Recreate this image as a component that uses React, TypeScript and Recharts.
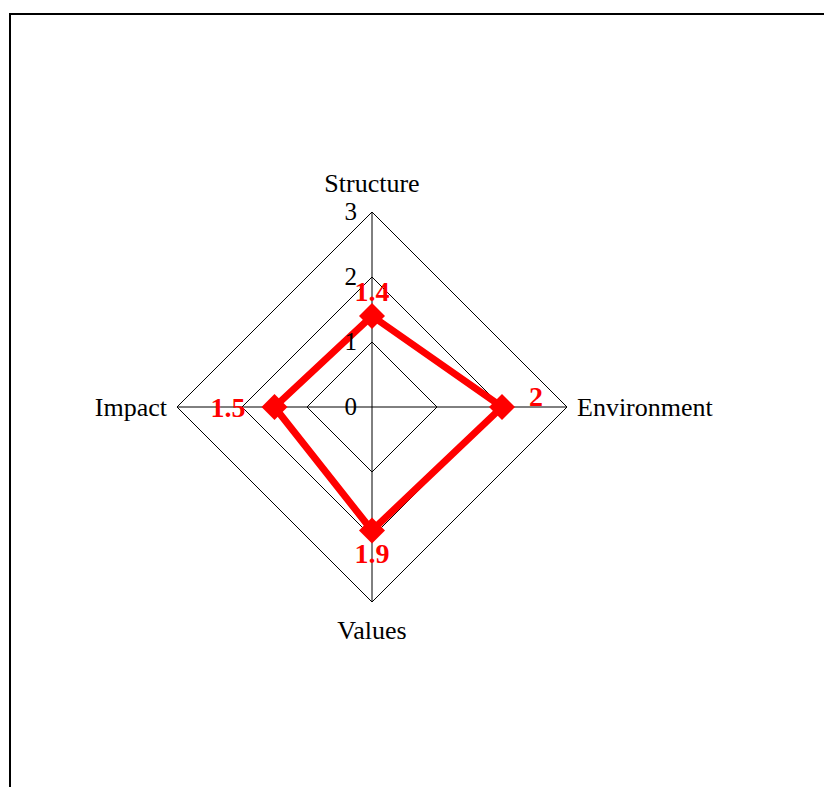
import { RadarChart, Radar, PolarGrid, PolarAngleAxis, PolarRadiusAxis } from "recharts";

const dimensions = ["Structure", "Environment", "Values", "Impact"];
const scores = [1.4, 2, 1.9, 1.5];
const radiusTicks = [0, 1, 2, 3];

const data = dimensions.map((name, i) => ({ name, score: scores[i] }));

const CX = 372;
const CY = 407;
const R = 195;
const FONT = "'Liberation Serif', 'Times New Roman', serif";

// direction of the i-th spoke, clockwise from the top
function dir(i: number) {
  const a = ((90 - (i * 360) / dimensions.length) * Math.PI) / 180;
  return { cos: Math.cos(a), sin: Math.sin(a) };
}

function AngleTick(props: any) {
  const { index, payload } = props;
  const { cos, sin } = dir(index);
  let x = CX;
  let y = CY;
  let anchor: "start" | "end" | "middle" = "middle";
  if (Math.abs(cos) < 0.01) {
    y = sin > 0 ? CY - R - 29 : CY + R + 28;
  } else {
    anchor = cos > 0 ? "start" : "end";
    x = cos > 0 ? CX + R + 10 : CX - R - 10;
  }
  return (
    <text x={x} y={y} textAnchor={anchor} dominantBaseline="central" fontFamily={FONT} fontSize={26} fill="#000">
      {payload.value}
    </text>
  );
}

function RadiusTick(props: any) {
  const { x, y, payload } = props;
  return (
    <text x={x - 15} y={y - 1} textAnchor="end" dominantBaseline="central" fontFamily={FONT} fontSize={25} fill="#000">
      {payload.value}
    </text>
  );
}

function Diamond(props: any) {
  const { cx, cy, index } = props;
  const s = 13;
  return (
    <polygon
      key={`d-${index}`}
      points={`${cx},${cy - s} ${cx + s},${cy} ${cx},${cy + s} ${cx - s},${cy}`}
      fill="#ff0000"
    />
  );
}

function ValueLabel(props: any) {
  const { x, y, value, index } = props;
  const { cos, sin } = dir(index);
  let tx = x;
  let ty = y;
  let anchor: "start" | "end" | "middle" = "middle";
  if (Math.abs(cos) < 0.01) {
    ty = sin > 0 ? y - 25 : y + 23;
  } else if (cos > 0) {
    anchor = "start";
    tx = x + 27;
    ty = y - 11;
  } else {
    anchor = "end";
    tx = x - 29;
  }
  return (
    <text key={`l-${index}`} x={tx} y={ty} textAnchor={anchor} dominantBaseline="central" fontFamily={FONT} fontSize={28} fontWeight="bold" fill="#ff0000">
      {value}
    </text>
  );
}

export default function App() {
  return (
    <div style={{ position: "fixed", left: 0, top: 0, width: 824, height: 787, overflow: "hidden", background: "#fff" }}>
      <div
        style={{
          position: "absolute",
          left: 9,
          top: 13,
          width: 1000,
          height: 1000,
          border: "2px solid #000",
          boxSizing: "border-box",
        }}
      />
      <div style={{ position: "absolute", left: 0, top: 0 }}>
        <RadarChart
          width={824}
          height={787}
          data={data}
          cx={CX}
          cy={CY}
          outerRadius={R}
          margin={{ top: 0, right: 0, bottom: 0, left: 0 }}
        >
          <PolarGrid gridType="polygon" stroke="#000" strokeWidth={1} strokeOpacity={1} />
          <PolarAngleAxis dataKey="name" tick={AngleTick} tickLine={false} axisLine={false} />
          <PolarRadiusAxis
            angle={90}
            domain={[0, 3]}
            ticks={radiusTicks as any}
            tickCount={4}
            axisLine={false}
            tick={RadiusTick}
          />
          <Radar
            dataKey="score"
            stroke="#ff0000"
            strokeWidth={7}
            fill="none"
            fillOpacity={0}
            dot={Diamond}
            label={ValueLabel}
            isAnimationActive={false}
          />
        </RadarChart>
      </div>
    </div>
  );
}
